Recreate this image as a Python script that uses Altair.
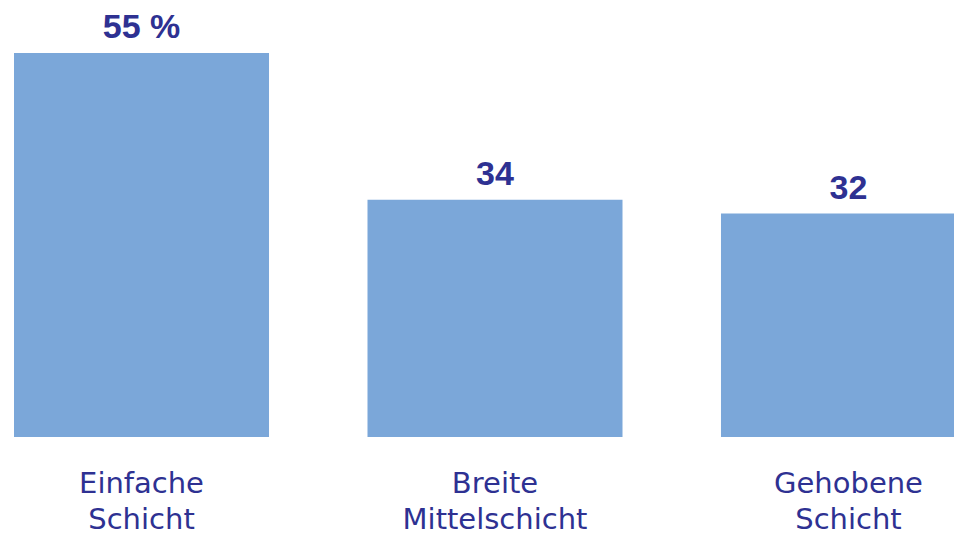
import altair as alt
import pandas as pd

categories = ["Einfache\nSchicht", "Breite\nMittelschicht", "Gehobene\nSchicht"]
values = [55, 34, 32]
value_labels = ["55 %", "34", "32"]

df = pd.DataFrame({"cat": categories, "val": values, "lab": value_labels})

BAR = "#7BA7D9"
TXT = "#2E3192"

x = alt.X(
    "cat:N",
    sort=categories,
    scale=alt.Scale(range=[6, 968], paddingInner=0.2786, paddingOuter=0),
    axis=alt.Axis(
        title=None,
        labelAngle=0,
        domain=False,
        ticks=False,
        grid=False,
        labelExpr="split(datum.label, '\\n')",
        labelFont="DejaVu Sans",
        labelFontSize=29,
        labelColor=TXT,
        labelLineHeight=36,
        labelPadding=32,
        labelBaseline="top",
        labelLimit=400,
    ),
)
y = alt.Y("val:Q", scale=alt.Scale(domain=[0, 61.45], nice=False), axis=None)

bars = alt.Chart(df).mark_bar(color=BAR, clip=True).encode(x=x, y=y)
texts = alt.Chart(df).mark_text(
    font="Liberation Sans",
    fontSize=34,
    fontWeight="bold",
    color=TXT,
    baseline="alphabetic",
    dy=-15,
).encode(x=x, y=y, text="lab:N")

chart = (
    alt.layer(bars, texts)
    .properties(
        width=946,
        height=429,
        padding={"top": 0, "left": 0, "right": 0, "bottom": 100},
        autosize=alt.AutoSizeParams(type="none"),
    )
    .configure_view(stroke=None)
)

chart.save("out.html", embed_options={"renderer": "svg", "actions": False})
